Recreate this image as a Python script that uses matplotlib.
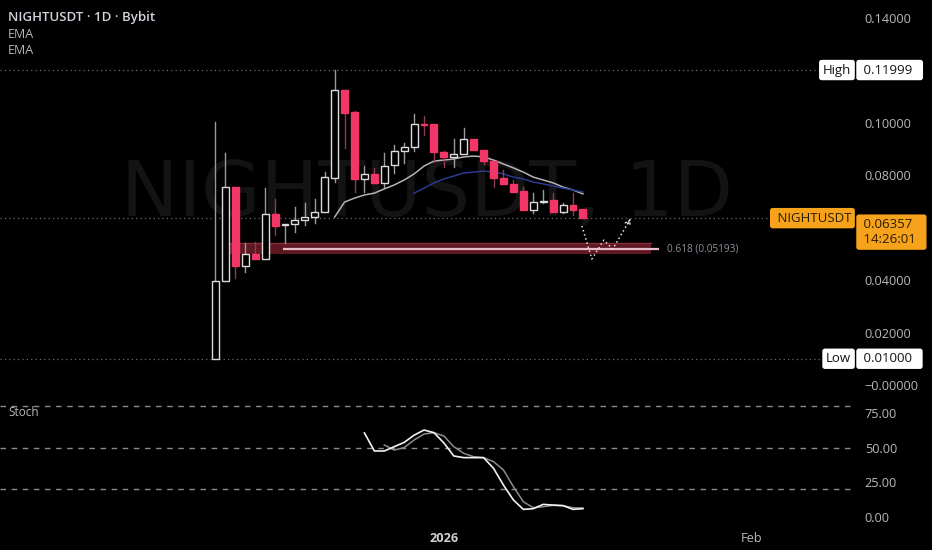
import matplotlib
matplotlib.use("Agg")
import matplotlib.pyplot as plt
from matplotlib.patches import Rectangle
from matplotlib.transforms import blended_transform_factory

# ---------------- data ----------------
header = "NIGHTUSDT · 1D · Bybit"
indicator_labels = ["EMA", "EMA"]
watermark = "NIGHTUSDT, 1D"
symbol = "NIGHTUSDT"

candle_idx = list(range(38))
opens = [0.0100, 0.0396, 0.0754, 0.0453, 0.0499, 0.0480, 0.0651, 0.0610, 0.0613, 0.0629,
         0.0640, 0.0659, 0.0789, 0.1124, 0.1040, 0.0785, 0.0804, 0.0770, 0.0838, 0.0891,
         0.0907, 0.0994, 0.0994, 0.0888, 0.0869, 0.0880, 0.0937, 0.0895, 0.0853, 0.0789,
         0.0766, 0.0739, 0.0667, 0.0697, 0.0705, 0.0659, 0.0686, 0.0670]
highs = [0.1002, 0.0884, 0.0754, 0.0541, 0.0545, 0.0750, 0.0709, 0.0615, 0.0678, 0.0693,
         0.0709, 0.0810, 0.11999, 0.1124, 0.1044, 0.0834, 0.0827, 0.0884, 0.0914, 0.0922,
         0.1032, 0.1025, 0.0994, 0.0890, 0.0937, 0.0979, 0.0937, 0.0895, 0.0853, 0.0819,
         0.0781, 0.0754, 0.0731, 0.0743, 0.0731, 0.0693, 0.0731, 0.0670]
lows = [0.0100, 0.0396, 0.0408, 0.0430, 0.0480, 0.0480, 0.0571, 0.0540, 0.0583, 0.0610,
        0.0617, 0.0659, 0.0773, 0.0903, 0.0735, 0.0735, 0.0770, 0.0754, 0.0808, 0.0846,
        0.0891, 0.0952, 0.0850, 0.0830, 0.0830, 0.0880, 0.0895, 0.0842, 0.0754, 0.0766,
        0.0735, 0.0667, 0.0655, 0.0693, 0.0659, 0.0655, 0.0648, 0.0636]
closes = [0.0396, 0.0754, 0.0453, 0.0499, 0.0480, 0.0651, 0.0606, 0.0612, 0.0629, 0.0640,
          0.0659, 0.0792, 0.1124, 0.1036, 0.0785, 0.0804, 0.0770, 0.0834, 0.0891, 0.0907,
          0.0994, 0.0990, 0.0888, 0.0869, 0.0880, 0.0937, 0.0895, 0.0853, 0.0789, 0.0766,
          0.0735, 0.0667, 0.0697, 0.0701, 0.0659, 0.0686, 0.0667, 0.06357]

ema_fast_idx = list(range(12, 38))
ema_fast = [0.0640, 0.0697, 0.0712, 0.0724, 0.0731, 0.0747, 0.0762, 0.0781, 0.0804, 0.0834,
            0.0853, 0.0857, 0.0861, 0.0869, 0.0872, 0.0869, 0.0857, 0.0842, 0.0827, 0.0811,
            0.0792, 0.0781, 0.0770, 0.0754, 0.0743, 0.0728]
ema_slow_idx = list(range(20, 38))
ema_slow = [0.0731, 0.0750, 0.0770, 0.0785, 0.0796, 0.0808, 0.0811, 0.0815, 0.0811, 0.0804,
            0.0792, 0.0785, 0.0773, 0.0766, 0.0758, 0.0750, 0.0743, 0.0735]

stoch_k_idx = list(range(15, 38))
stoch_k = [60.6, 47.6, 47.6, 50.7, 53.8, 59.0, 62.7, 60.8, 53.4, 44.0, 42.8, 42.8, 42.8,
           35.1, 23.0, 12.3, 5.5, 6.0, 9.1, 8.6, 8.2, 5.5, 6.0]
stoch_d_idx = list(range(17, 38))
stoch_d = [51.9, 48.3, 50.0, 55.5, 59.8, 60.8, 58.4, 50.7, 45.9, 43.5, 42.8, 39.9, 33.9,
           21.9, 11.0, 6.7, 7.4, 8.4, 8.2, 6.7, 6.5]

price_ticks = [0.0, 0.02, 0.04, 0.08, 0.10, 0.14]
price_tick_labels = ["\u22120.00000", "0.02000", "0.04000", "0.08000", "0.10000", "0.14000"]
stoch_ticks = [0, 25, 50, 75]
stoch_tick_labels = ["0.00", "25.00", "50.00", "75.00"]
stoch_bands = [80, 50, 20]
date_ticks = [23, 54]
date_labels = ["2026", "Feb"]

high_value = 0.11999
high_text = "0.11999"
low_value = 0.01
low_text = "0.01000"
last_price = 0.06357
last_text = "0.06357"
countdown = "14:26:01"

fib_level = 0.05193
fib_label = "0.618 (0.05193)"
fib_zone_low, fib_zone_high = 0.0499, 0.0541
fib_zone_start, fib_zone_end = 1.05, 43.9
fib_line_start, fib_line_end = 6.8, 44.7

proj_idx = [36.9, 37.9, 39.1, 40.0, 41.9]
proj_price = [0.0606, 0.0480, 0.0552, 0.0518, 0.0640]

# ---------------- style ----------------
BG = "#000000"
TXT = "#b8b8bc"
UP_EDGE = "#dcdcdc"
UP_WICK = "#9a9a9a"
DN_FILL = "#f23668"
DN_WICK = "#8c3a55"
FONT = ["Open Sans", "DejaVu Sans"]
plt.rcParams["font.family"] = FONT

W, H = 932, 550
fig = plt.figure(figsize=(W / 100, H / 100), dpi=100, facecolor=BG)

PW = 855
ax = fig.add_axes([0, 1 - 395 / H, PW / W, 395 / H], facecolor=BG)
ax2 = fig.add_axes([0, 1 - 528 / H, PW / W, 130 / H], facecolor=BG)

XMIN, XMAX = -21.7, 64.4
for a in (ax, ax2):
    a.set_xlim(XMIN, XMAX)
    for s in a.spines.values():
        s.set_visible(False)

ax.set_ylim(-0.00381, 0.14667)
ax2.set_ylim(-7.93, 85.8)

# watermark
wm = ax.text(427 / PW, 1 - 216 / 395, watermark, transform=ax.transAxes, ha="center",
             va="baseline", color="#131313", fontsize=50, family="DejaVu Sans", zorder=0)
fig.canvas.draw()
bb = wm.get_window_extent(fig.canvas.get_renderer())
wm.set_fontsize(50 * 614 / bb.width)

# fib zone
ax.add_patch(Rectangle((fib_zone_start, fib_zone_low), fib_zone_end - fib_zone_start,
                       fib_zone_high - fib_zone_low, facecolor="#5e1822", edgecolor="none",
                       zorder=1))
ax.plot([fib_zone_start, fib_zone_end], [fib_zone_high, fib_zone_high], color="#8a2a3a",
        lw=1, zorder=1)
ax.plot([fib_line_start, fib_line_end], [fib_level, fib_level], color="#e8bcc8", lw=1.6,
        zorder=2, solid_capstyle="butt")
ax.text(fib_line_end + 0.8, fib_level, fib_label, color="#8a8e99", fontsize=7.2,
        va="center", ha="left", zorder=3)

# dotted reference lines
for v in (high_value, last_price, low_value):
    ax.axhline(v, color="#6a6d78", lw=0.9, ls=(0, (1, 2.5)), zorder=1)

# EMA lines
ax.plot(ema_fast_idx, ema_fast, color="#b4b4b8", lw=1.1, zorder=3)
ax.plot(ema_slow_idx, ema_slow, color="#2b3a8f", lw=1.1, zorder=3)

# candles
bw = 0.7
for i, o, h, l, c in zip(candle_idx, opens, highs, lows, closes):
    top, bot = max(o, c), min(o, c)
    up = c >= o
    wc = UP_WICK if up else DN_WICK
    if h > top:
        ax.plot([i, i], [top, h], color=wc, lw=1, zorder=4)
    if l < bot:
        ax.plot([i, i], [l, bot], color=wc, lw=1, zorder=4)
    ax.add_patch(Rectangle((i - bw / 2, bot), bw, max(top - bot, 0.0002),
                           facecolor=BG if up else DN_FILL,
                           edgecolor=UP_EDGE if up else DN_FILL, lw=1, zorder=5))

# projection path
ax.plot(proj_idx, proj_price, color="#e0e0e0", lw=1.1, ls=(0, (1, 1.8)), zorder=6)
ax.annotate("", xy=(proj_idx[-1], proj_price[-1]),
            xytext=(proj_idx[-1] - 0.5, proj_price[-1] - 0.0035),
            arrowprops=dict(arrowstyle="->,head_length=0.3,head_width=0.2",
                            color="#e0e0e0", lw=1, ls=":"), zorder=6)

# price axis
ax.yaxis.tick_right()
ax.set_yticks(price_ticks)
ax.set_yticklabels(price_tick_labels)
ax.tick_params(axis="y", length=0, pad=7, labelsize=9.2, labelcolor=TXT)
ax.tick_params(axis="x", bottom=False, labelbottom=False)

# high / low / last markers
tr = blended_transform_factory(ax.transAxes, ax.transData)
BOX = "round,pad=0.28,rounding_size=0.2"
XL, XR = 0.9955, 1.0058
def marker(y, left, right, fc, tc):
    ax.text(XL, y, left, transform=tr, ha="right", va="center", fontsize=9.5,
            color=tc, zorder=10, clip_on=False, bbox=dict(boxstyle=BOX, fc=fc, ec="none"))
    ax.text(XR, y, right, transform=tr, ha="left", va="center", fontsize=9.5,
            color=tc, zorder=10, clip_on=False, bbox=dict(boxstyle=BOX, fc=fc, ec="none"))

marker(high_value, "High", " " + high_text + "  ", "#ffffff", "#131313")
marker(low_value, "Low", " " + low_text + "  ", "#ffffff", "#131313")
ax.text(XL, last_price, " " + symbol, transform=tr, ha="right", va="center",
        fontsize=9.5, color="#2a1c00", zorder=10, clip_on=False,
        bbox=dict(boxstyle=BOX, fc="#f7a21b", ec="none"))
ax.text(XR, last_price, " " + last_text + "   \n " + countdown + " ", transform=tr,
        ha="left", va="top", fontsize=9.5, color="#2a1c00", zorder=10, clip_on=False,
        linespacing=1.2, bbox=dict(boxstyle=BOX, fc="#f7a21b", ec="none"))

# stoch panel
for b in stoch_bands:
    ax2.axhline(b, color="#8a8a8a", lw=1, ls=(0, (4, 4)), zorder=1)
ax2.plot(stoch_d_idx, stoch_d, color="#8c8c8c", lw=1.1, zorder=3)
ax2.plot(stoch_k_idx, stoch_k, color="#f2f2f2", lw=1.2, zorder=4)
ax2.yaxis.tick_right()
ax2.set_yticks(stoch_ticks)
ax2.set_yticklabels(stoch_tick_labels)
ax2.tick_params(axis="y", length=0, pad=7, labelsize=9.2, labelcolor=TXT)
ax2.set_xticks(date_ticks)
ax2.set_xticklabels(date_labels)
ax2.tick_params(axis="x", length=0, pad=3, labelsize=9.2, labelcolor=TXT)
ax2.get_xticklabels()[0].set_fontweight("bold")
ax2.get_xticklabels()[0].set_color("#d0d0d4")
ax2.text(8 / PW, 1 - 14 / 130, "Stoch", transform=ax2.transAxes, color=TXT, fontsize=8.5,
         ha="left", va="center")

# header
fig.text(8 / W, 1 - 17 / H, header, color="#d1d4dc", fontsize=9.5, fontweight="semibold",
         ha="left", va="center")
fig.text(8 / W, 1 - 34 / H, indicator_labels[0], color=TXT, fontsize=9, ha="left", va="center")
fig.text(8 / W, 1 - 51 / H, indicator_labels[1], color=TXT, fontsize=9, ha="left", va="center")

fig.savefig("out.png", dpi=100, facecolor=BG)
